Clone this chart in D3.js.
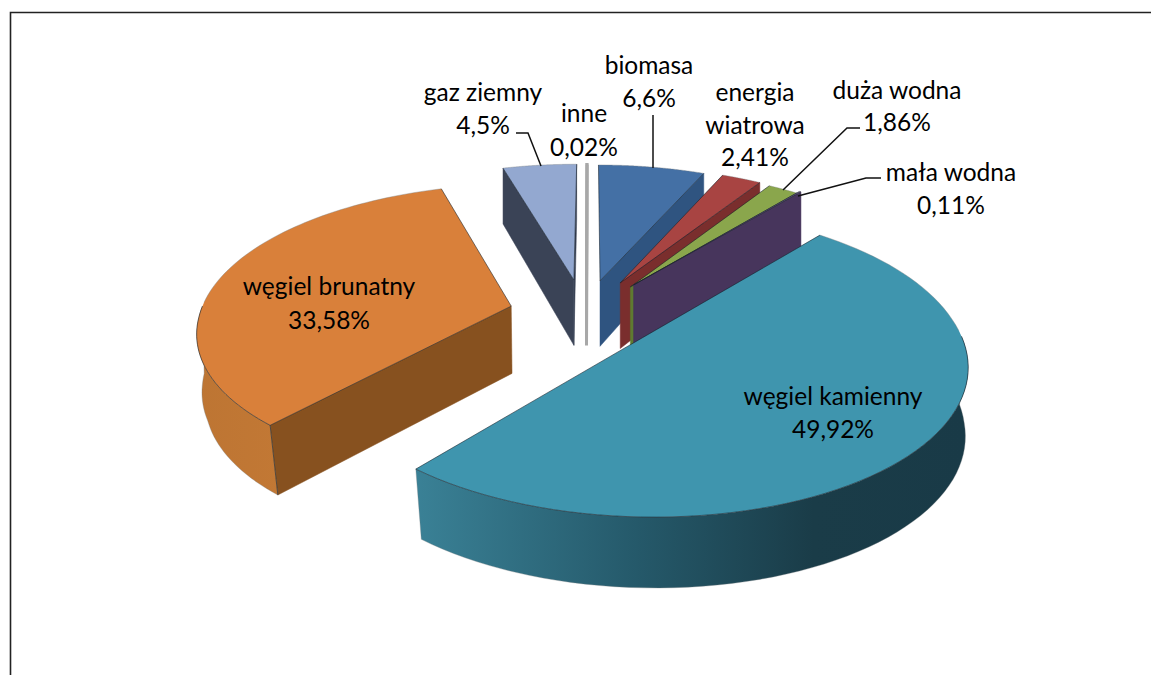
<!DOCTYPE html>
<html><head><meta charset="utf-8">
<script src="https://cdn.jsdelivr.net/npm/d3@7"></script>
<style>html,body{margin:0;padding:0;background:#fff}svg{display:block}text{font-family:Lato,"Open Sans",sans-serif;font-size:24.5px;fill:#000}</style>
</head><body><svg id="c" width="1151" height="675"></svg>
<script>
// data
const names = ["węgiel kamienny","węgiel brunatny","gaz ziemny","inne","biomasa","energia wiatrowa","duża wodna","mała wodna"];
const values = [49.92,33.58,4.5,0.02,6.6,2.41,1.86,0.11];
const valueLabels = ["49,92%","33,58%","4,5%","0,02%","6,6%","2,41%","1,86%","0,11%"];

// styles
const topColors = ["#3f95ae","#d9803a","#93a8d0","#a8a8a8","#4470a5","#a84442","#8aa64c","#6d5a8c"];
const sideColors = ["#2a5a6b","#87511f","#3a4356","#a8a8a8","#2f5480","#7a2e2d","#5f7a30","#47355c"];
const wallStops = [
  [["0","#3a8196"],["0.4","#25596a"],["0.72","#1a3c48"],["1","#193a47"]],
  [["0","#bd7533"],["1","#cc7e38"]],
  [["0","#3a4356"],["1","#3a4356"]],[["0","#a8a8a8"],["1","#a8a8a8"]],
  [["0","#2f5480"],["1","#2f5480"]],[["0","#7a2e2d"],["1","#7a2e2d"]],
  [["0","#5f7a30"],["1","#5f7a30"]],[["0","#47355c"],["1","#47355c"]]];
const paintOrder = [2,3,4,5,6,7,1,0];

// layout: exploded offsets in the pie plane (radius units) and the view's angular distortion (degrees)
const offX = [0.18,-0.239,-0.037,0.005,0.05,0.117,0.15,0.161];
const offY = [-0.148,0.07,0.262,0.26,0.255,0.24,0.21,0.225];
const shiftStart = [0,1.6,3.5,3.3,3.2,3,3,3];
const shiftEnd = [0.3,2.4,3.5,3.3,2.8,3,3,3];
const cx=585, cy=316, R=312, kR=143, perspBack=0.15, perspFront=0.16, shrink=0.985, vanishX=782;
const deg = Math.PI/180;
const startAngle = 40*deg;
const spread = 2*Math.PI*d3.sum(values)/100;
const arcs = d3.pie().sort(null).startAngle(startAngle).endAngle(startAngle+spread)(values)
  .map((d,i)=>({a0:d.startAngle+shiftStart[i]*deg, a1:d.endAngle+shiftEnd[i]*deg}));

const svg = d3.select("#c");
const defs = svg.append("defs");

function topPt(a,r,i){
  const X=offX[i]+r*Math.sin(a), Y=offY[i]+r*Math.cos(a), w=1+(Y>0?perspBack:perspFront)*Y;
  return {x:cx+R*X/w, y:cy-kR*Y/w, Y};
}
function botPt(p){
  const t = Math.max(0,Math.min(1,(0.15-p.Y)/0.4));
  return {x:p.x+(vanishX-p.x)*(1-shrink)*t, y:p.y+68-(p.Y>0?10:2.5)*p.Y};
}
const line = d3.line().x(d=>d.x).y(d=>d.y);
function arcAngles(a0,a1,n){ return d3.range(0,n+1).map(t=>a0+(a1-a0)*t/n); }

const edge = "rgba(20,30,40,0.8)";
const softEdge = "rgba(120,125,130,0.55)";
paintOrder.forEach(i=>{
  const {a0,a1}=arcs[i];
  const angs=arcAngles(a0,a1,80);
  const rim=angs.map(a=>topPt(a,1,i)), apex=topPt(0,0,i);
  const g=svg.append("g").attr("class","slice").attr("data-name",names[i]);
  const thin = i===3;
  const sw = thin?3:0.7, st = thin?topColors[i]:edge;
  const xs=rim.map(d=>d.x);
  const gid="w"+i;
  const grad=defs.append("linearGradient").attr("id",gid).attr("gradientUnits","userSpaceOnUse")
    .attr("x1",d3.min(xs)).attr("x2",d3.max(xs)).attr("y1",0).attr("y2",0);
  wallStops[i].forEach(s=>grad.append("stop").attr("offset",s[0]).attr("stop-color",s[1]));
  // radial walls, only those facing the viewer
  if(Math.sin(a0)<0) g.append("path").attr("d",line([apex,rim[0],botPt(rim[0]),botPt(apex)])+"Z")
      .attr("fill",sideColors[i]).attr("stroke",thin?st:sideColors[i]).attr("stroke-width",thin?3:0.5);
  if(Math.sin(a1)>0) { const p=rim[rim.length-1];
    g.append("path").attr("d",line([apex,p,botPt(p),botPt(apex)])+"Z")
      .attr("fill",sideColors[i]).attr("stroke",thin?st:sideColors[i]).attr("stroke-width",thin?3:0.5); }
  // outer wall: the front half of the rim only
  const isFront=(j)=>Math.cos(angs[j])<0.02;
  const front=rim.filter((p,j)=>isFront(j));
  if(front.length>1) g.append("path").attr("d",line(front.concat(front.map(botPt).reverse()))+"Z")
    .attr("fill",`url(#${gid})`).attr("stroke",softEdge).attr("stroke-width",0.6);
  // top face
  g.append("path").attr("d",line([apex].concat(rim))+"Z")
    .attr("fill",topColors[i]).attr("stroke",thin?st:"none").attr("stroke-width",sw);
  if(thin) return;
  // edges: soft along the far rim, dark where the top meets a visible wall
  const back=rim.filter((p,j)=>!isFront(j));
  if(back.length>1) g.append("path").attr("d",line(back)).attr("fill","none").attr("stroke",softEdge).attr("stroke-width",0.7);
  if(front.length>1) g.append("path").attr("d",line(front)).attr("fill","none").attr("stroke",edge).attr("stroke-width",sw);
  g.append("path").attr("d",line([rim[0],apex,rim[rim.length-1]])).attr("fill","none").attr("stroke",edge).attr("stroke-width",sw);
  if(front.length>1 && Math.sin(a0)<0){
    g.append("path").attr("d",line([rim[0],botPt(rim[0])])).attr("fill","none").attr("stroke",edge).attr("stroke-width",sw);
  }
});

// frame
svg.append("path").attr("d","M10.5 675V12.5H1151").attr("fill","none").attr("stroke","#222").attr("stroke-width",1.6);

// leader lines
const leaders=[[[516,133],[528,133],[541,166]],[[653,115],[653,168]],[[860,128],[847,128],[783,190]],[[881,178],[866,178],[798,196]]];
svg.selectAll("path.leader").data(leaders).join("path").attr("class","leader")
  .attr("d",d=>d3.line()(d)).attr("fill","none").attr("stroke","#111").attr("stroke-width",1.5);

// labels
const labelLines = names.map((n,i)=> n==="energia wiatrowa" ? ["energia","wiatrowa",valueLabels[i]] : [n,valueLabels[i]]);
const labelPos=[[833,405,33],[329,295,34],[483,101,33],[584,122,34],[649,74,33],[755,101,32.5],[897,99,32],[951,181,33]];
labelLines.forEach((ls,i)=>{
  const p=labelPos[i];
  ls.forEach((t,j)=>svg.append("text").attr("x",p[0]).attr("y",p[1]+j*p[2]).attr("text-anchor","middle").text(t));
});
</script></body></html>
